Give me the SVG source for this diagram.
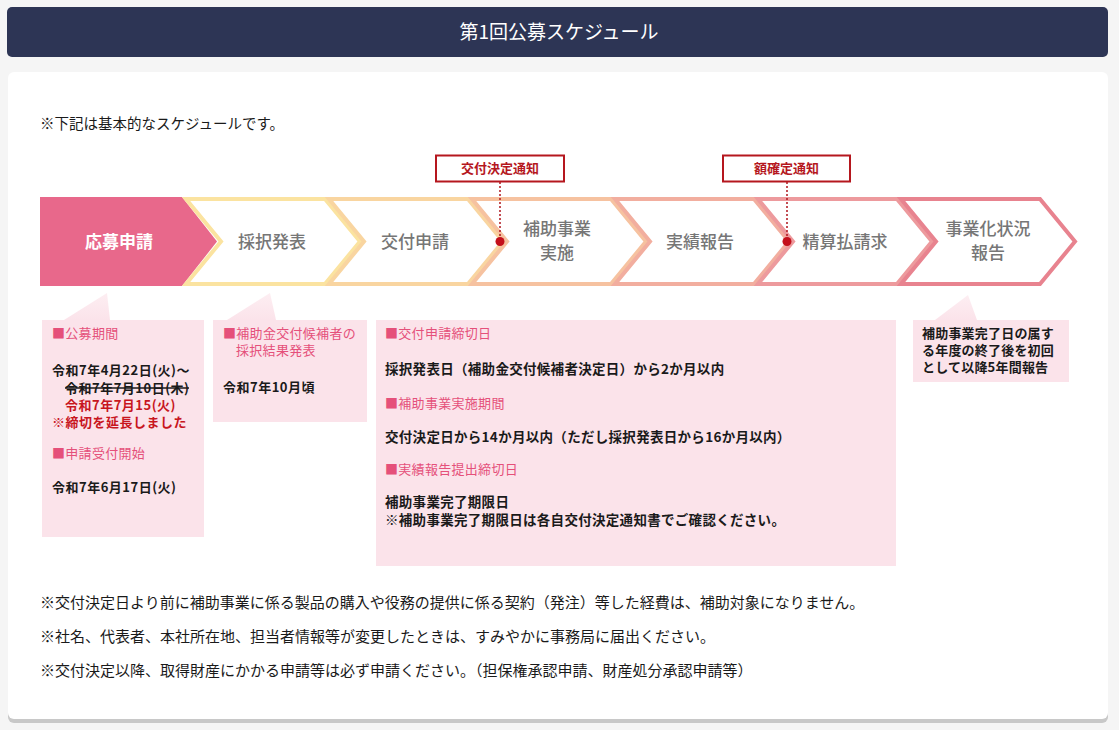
<svg xmlns="http://www.w3.org/2000/svg" width="1119" height="730" viewBox="0 0 1119 730">
<defs>
<style>
text{font-family:"Noto Sans CJK JP","Noto Sans",sans-serif;}
.step{font-size:17px;font-weight:500;fill:#767676;text-anchor:middle;}
.chev{fill:none;stroke-width:4;stroke-linejoin:miter;}
.lbl{fill:#fff;stroke:#b5171e;stroke-width:2;}
.lblt{font-size:13px;font-weight:700;fill:#b5171e;text-anchor:middle;}
.dot{fill:#c4101c;}
.dline{stroke:#b0151c;stroke-width:1.5;stroke-dasharray:2 2;fill:none;}
.box{fill:#fbe3ea;}
.tail{fill:url(#tailg);}
.h{font-size:13px;fill:#e5507a;letter-spacing:0.3px;}
.b{font-size:13px;font-weight:700;fill:#1a1a1a;letter-spacing:0.5px;}
.b3{font-size:13.5px;font-weight:700;fill:#1a1a1a;letter-spacing:0.3px;}
.r{font-size:13px;font-weight:700;fill:#c8161e;letter-spacing:0.5px;}
.note{font-size:15px;fill:#1a1a1a;}
</style>
<linearGradient id="tailg" x1="0" y1="0" x2="0" y2="1">
<stop offset="0" stop-color="#fdeef2"/>
<stop offset="1" stop-color="#fbe3ea"/>
</linearGradient>
</defs>
<rect x="0" y="0" width="1119" height="730" fill="#f5f5f5"/>
<g id="header">
<rect x="7" y="7" width="1101" height="50" rx="5" fill="#2d3555"/>
<text x="559" y="39" font-size="19" fill="#fff" text-anchor="middle">第1回公募スケジュール</text>
</g>
<g id="card">
<rect x="8" y="75" width="1100" height="648" rx="6" fill="#c8c8c8"/>
<rect x="8" y="72" width="1100" height="647" rx="6" fill="#fff"/>
<text x="40" y="129" font-size="14.5" fill="#1a1a1a">※下記は基本的なスケジュールです。</text>
</g>
<g id="steps">
<g id="step1">
<polygon points="40,197 182,197 217,241.5 182,286 40,286" fill="#e8688b"/>
<text x="119" y="247.5" class="step" style="fill:#fff;font-weight:700">応募申請</text>
</g>
<g id="step2">
<polygon class="chev" stroke="#fbe3a0" points="186,199 325,199 360,241.5 325,284 186,284 221,241.5"/>
<text x="272" y="247.5" class="step">採択発表</text>
</g>
<g id="step3">
<polygon class="chev" stroke="#f9d5a0" points="329,199 468,199 503,241.5 468,284 329,284 364,241.5"/>
<text x="415" y="247.5" class="step">交付申請</text>
</g>
<g id="step4">
<polygon class="chev" stroke="#f6c2a0" points="472,199 611,199 646,241.5 611,284 472,284 507,241.5"/>
<text x="557" y="235" class="step">補助事業</text>
<text x="557" y="259" class="step">実施</text>
</g>
<g id="step5">
<polygon class="chev" stroke="#f2ae9f" points="615,199 754,199 789,241.5 754,284 615,284 650,241.5"/>
<text x="700" y="247.5" class="step">実績報告</text>
</g>
<g id="step6">
<polygon class="chev" stroke="#ed9a9d" points="758,199 897,199 932,241.5 897,284 758,284 793,241.5"/>
<text x="845" y="247.5" class="step">精算払請求</text>
</g>
<g id="step7">
<polygon class="chev" stroke="#e8838f" points="901,199 1040,199 1075,241.5 1040,284 901,284 936,241.5"/>
<text x="988" y="235" class="step">事業化状況</text>
<text x="988" y="259" class="step">報告</text>
</g>
</g>
<g id="connectors">
<line class="dline" x1="500" y1="182" x2="500" y2="240"/>
<line class="dline" x1="787" y1="182" x2="787" y2="240"/>
<circle class="dot" cx="500" cy="241.5" r="4.5"/>
<circle class="dot" cx="787" cy="241.5" r="4.5"/>
</g>
<g id="label-kofu">
<rect class="lbl" x="436" y="155.5" width="128" height="26"/>
<text class="lblt" x="500" y="173">交付決定通知</text>
</g>
<g id="label-gaku">
<rect class="lbl" x="723" y="155.5" width="127" height="26"/>
<text class="lblt" x="786.5" y="173">額確定通知</text>
</g>
<g id="box1">
<polygon class="tail" points="64,320 107,293 110,320"/>
<rect class="box" x="42" y="320" width="162" height="217"/>
<text class="h" x="52" y="338">■公募期間</text>
<text class="b" x="52" y="375">令和7年4月22日(火)〜</text>
<text class="b" x="65" y="393">令和7年7月10日(木)</text>
<line x1="65" y1="388" x2="189" y2="388" stroke="#1a1a1a" stroke-width="1.3"/>
<text class="r" x="65" y="410">令和7年7月15(火)</text>
<text class="r" x="52" y="427">※締切を延長しました</text>
<text class="h" x="52" y="458">■申請受付開始</text>
<text class="b" x="52" y="492">令和7年6月17日(火)</text>
</g>
<g id="box2">
<polygon class="tail" points="227,320 270,293 276,320"/>
<rect class="box" x="213" y="320" width="154" height="102"/>
<text class="h" x="223" y="338">■補助金交付候補者の</text>
<text class="h" x="236" y="355">採択結果発表</text>
<text class="b" x="223" y="392">令和7年10月頃</text>
</g>
<g id="box3">
<rect class="box" x="376" y="320" width="520" height="246"/>
<text class="h" x="385" y="338">■交付申請締切日</text>
<text class="b3" x="385" y="374">採択発表日（補助金交付候補者決定日）から2か月以内</text>
<text class="h" x="385" y="408">■補助事業実施期間</text>
<text class="b3" x="385" y="442">交付決定日から14か月以内（ただし採択発表日から16か月以内）</text>
<text class="h" x="385" y="474">■実績報告提出締切日</text>
<text class="b3" x="385" y="507">補助事業完了期限日</text>
<text class="b3" x="385" y="525">※補助事業完了期限日は各自交付決定通知書でご確認ください。</text>
</g>
<g id="box4">
<polygon class="tail" points="935,320 968,295 977,320"/>
<rect class="box" x="913" y="320" width="156" height="62"/>
<text class="b" x="922" y="338" style="letter-spacing:0.2px">補助事業完了日の属す</text>
<text class="b" x="922" y="355" style="letter-spacing:0.2px">る年度の終了後を初回</text>
<text class="b" x="922" y="372" style="letter-spacing:0.2px">として以降5年間報告</text>
</g>
<g id="notes">
<text class="note" x="40" y="608">※交付決定日より前に補助事業に係る製品の購入や役務の提供に係る契約（発注）等した経費は、補助対象になりません。</text>
<text class="note" x="40" y="642">※社名、代表者、本社所在地、担当者情報等が変更したときは、すみやかに事務局に届出ください。</text>
<text class="note" x="40" y="676">※交付決定以降、取得財産にかかる申請等は必ず申請ください。（担保権承認申請、財産処分承認申請等）</text>
</g>
</svg>
